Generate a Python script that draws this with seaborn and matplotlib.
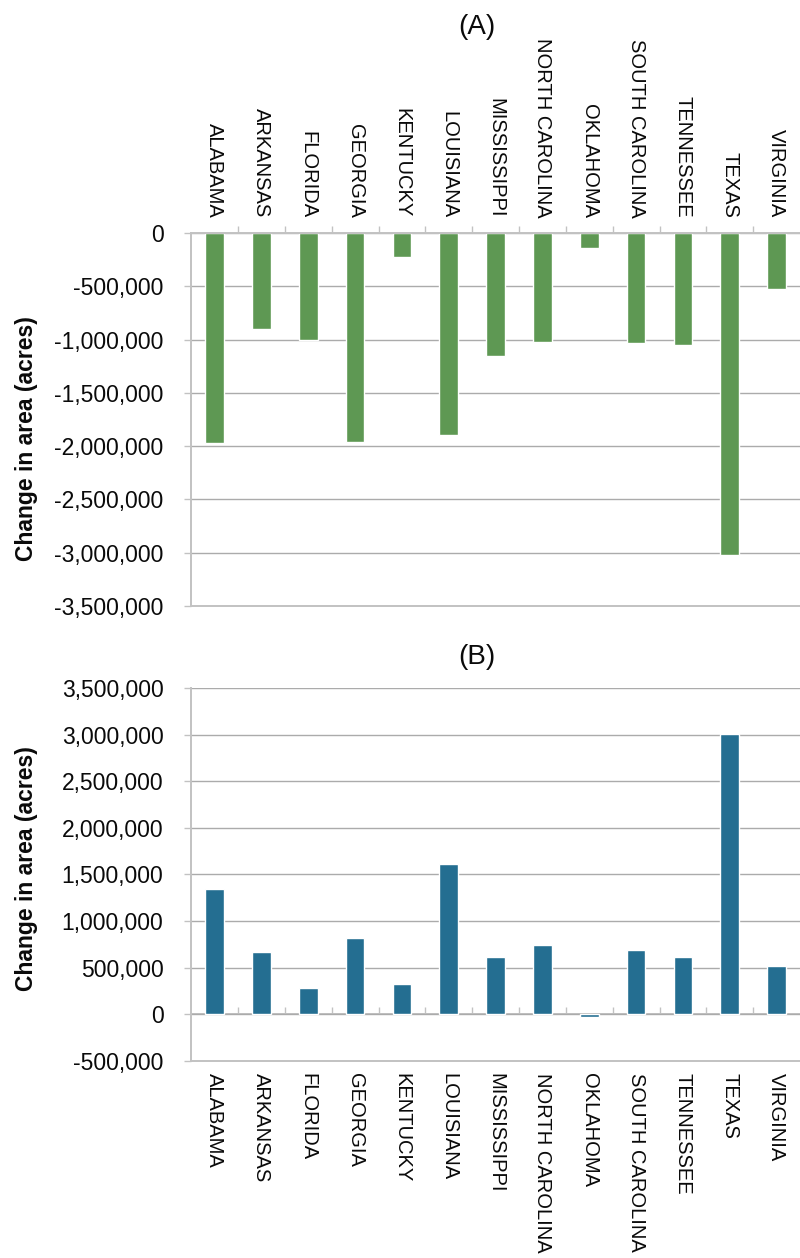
import numpy as np
import matplotlib
matplotlib.use("Agg")
import matplotlib.pyplot as plt
from matplotlib.ticker import FuncFormatter, MultipleLocator, FixedLocator
import seaborn as sns

# States shared by both panels
states = ["ALABAMA", "ARKANSAS", "FLORIDA", "GEORGIA", "KENTUCKY", "LOUISIANA",
          "MISSISSIPPI", "NORTH CAROLINA", "OKLAHOMA", "SOUTH CAROLINA",
          "TENNESSEE", "TEXAS", "VIRGINIA"]

# (A) change in area, acres
change_a = [-1975000, -897000, -1006000, -1959000, -222000, -1900000,
            -1150000, -1022000, -137000, -1037000, -1053000, -3019000, -525000]

# (B) change in area, acres
change_b = [1340000, 673000, 279000, 824000, 330000, 1612000,
            612000, 745000, -29000, 688000, 612000, 3008000, 516000]

ylim_a = (-3500000, 0)
ylim_b = (-500000, 3500000)
y_step = 500000

GREEN = "#5E9853"
BLUE = "#246E91"
GRID = "#ABABAB"
SPINE = "#C2C2C2"
TEXT = "#0A0A0A"

sns.set_theme(style="white")
plt.rcParams["font.family"] = ["Liberation Sans", "DejaVu Sans"]

fig = plt.figure(figsize=(8, 12.58), dpi=100)
ax_a = fig.add_axes([0.239, 0.5183, 0.761, 0.2965])
ax_b = fig.add_axes([0.239, 0.1566, 0.761, 0.2965])

sns.barplot(x=states, y=change_a, color=GREEN, saturation=1, width=0.4, ax=ax_a)
sns.barplot(x=states, y=change_b, color=BLUE, saturation=1, width=0.4, ax=ax_b)

boundaries = np.arange(0.5, len(states) - 0.5, 1.0)


def style_value_axis(ax, ylim):
    ax.set_ylim(*ylim)
    ax.set_xlim(-0.5, len(states) - 0.5)
    ax.yaxis.set_major_locator(MultipleLocator(y_step))
    ax.yaxis.set_major_formatter(FuncFormatter(lambda v, _: f"{v:,.0f}"))
    ax.grid(axis="y", color=GRID, linewidth=1.0)
    ax.grid(axis="x", visible=False)
    ax.set_axisbelow(True)
    ax.tick_params(axis="y", left=True, direction="out", length=5, width=1,
                   color=SPINE, labelsize=16.5, pad=15, labelcolor=TEXT)
    ax.set_xlabel("")
    ax.set_ylabel("Change in area (acres)", fontsize=16.5, fontweight="bold",
                  color=TEXT)
    for side in ("left", "right", "top", "bottom"):
        ax.spines[side].set_color(SPINE)
        ax.spines[side].set_linewidth(1.4)
    ax.spines["right"].set_visible(False)


style_value_axis(ax_a, ylim_a)
style_value_axis(ax_b, ylim_b)

# Panel A: category axis sits at zero along the top
ax_a.xaxis.tick_top()
ax_a.xaxis.set_minor_locator(FixedLocator(boundaries))
ax_a.tick_params(axis="x", which="major", top=True, bottom=False, length=0,
                 labeltop=True, labelbottom=False, labelsize=14.5, pad=11,
                 labelrotation=-90, labelcolor=TEXT)
ax_a.tick_params(axis="x", which="minor", top=True, bottom=False,
                 direction="out", length=5, width=1, color=SPINE)
ax_a.yaxis.set_label_coords(-0.252, 0.45)

# Panel B: labels below the plot, category line drawn at zero
ax_b.spines["top"].set_visible(False)
ax_b.tick_params(axis="x", which="major", bottom=True, top=False, length=0,
                 labelsize=14.5, pad=9, labelrotation=-90, labelcolor=TEXT)
zero_frac = (0 - ylim_b[0]) / (ylim_b[1] - ylim_b[0])
zero_axis = ax_b.secondary_xaxis(zero_frac)
zero_axis.set_xticks(boundaries)
zero_axis.tick_params(axis="x", bottom=True, direction="in", length=5, width=1,
                      color=SPINE, labelbottom=False)
zero_axis.spines["bottom"].set_color(SPINE)
zero_axis.spines["bottom"].set_linewidth(1.4)
ax_b.yaxis.set_label_coords(-0.252, 0.517)

fig.text(477 / 800, 1 - 27 / 1258, "(A)", ha="center", va="center",
         fontsize=20, color=TEXT)
fig.text(477 / 800, 1 - 657 / 1258, "(B)", ha="center", va="center",
         fontsize=20, color=TEXT)

fig.savefig("out.png", dpi=100, facecolor="white")
